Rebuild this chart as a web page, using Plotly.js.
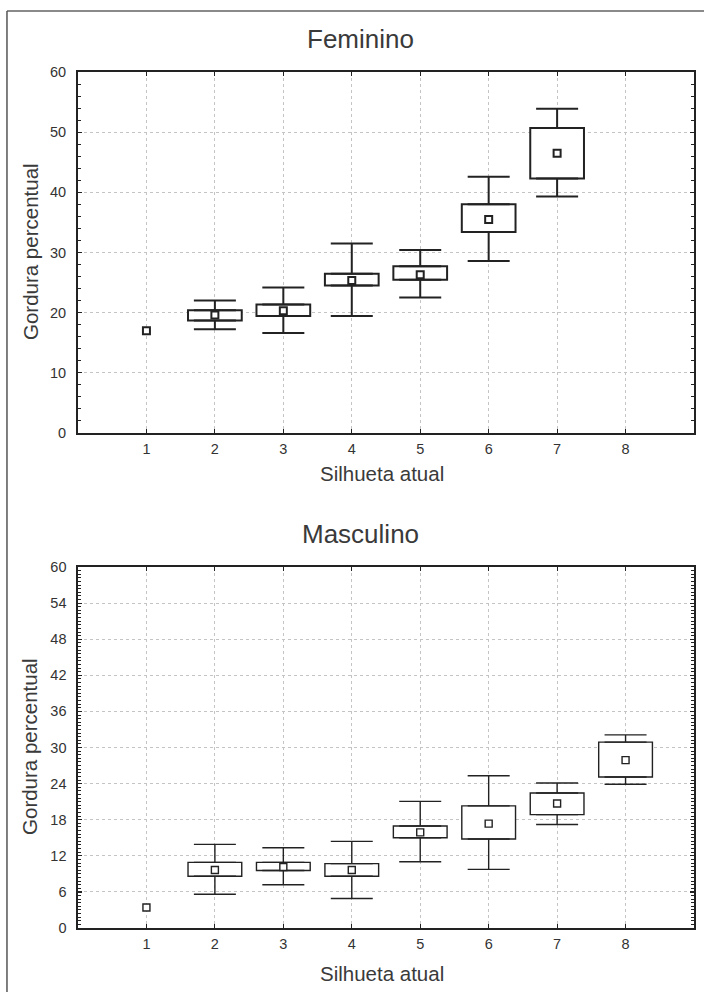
<!DOCTYPE html>
<html>
<head>
<meta charset="utf-8">
<script src="https://cdn.plot.ly/plotly-3.0.1.min.js"></script>
<style>html,body{margin:0;padding:0;background:#fff;}#chart{width:704px;height:992px;}</style>
</head>
<body>
<div id="chart"></div>
<script>
// ---- Data ----
var silhueta = [1, 2, 3, 4, 5, 6, 7, 8];
var xTickLabels = ["1", "2", "3", "4", "5", "6", "7", "8"];

// Feminino: mean, box (mean ± SE) and whiskers (mean ± SD)
var femMean      = [17.0, 19.6, 20.3, 25.35, 26.3, 35.5, 46.5, null];
var femBoxLow    = [null, 18.7, 19.45, 24.5, 25.45, 33.4, 42.3, null];
var femBoxHigh   = [null, 20.4, 21.35, 26.45, 27.7, 38.0, 50.7, null];
var femWhiskLow  = [null, 17.25, 16.6, 19.45, 22.5, 28.6, 39.3, null];
var femWhiskHigh = [null, 22.0, 24.2, 31.5, 30.4, 42.6, 53.9, null];

// Masculino
var mascMean      = [3.4, 9.65, 10.15, 9.65, 15.9, 17.35, 20.7, 27.9];
var mascBoxLow    = [null, 8.6, 9.55, 8.6, 15.0, 14.8, 18.85, 25.1];
var mascBoxHigh   = [null, 10.9, 10.9, 10.7, 16.95, 20.3, 22.45, 30.9];
var mascWhiskLow  = [null, 5.6, 7.2, 4.9, 11.0, 9.75, 17.2, 23.9];
var mascWhiskHigh = [null, 13.9, 13.35, 14.4, 21.05, 25.3, 24.1, 32.1];

var femTickVals = [0, 10, 20, 30, 40, 50, 60];
var mascTickVals = [0, 6, 12, 18, 24, 30, 36, 42, 48, 54, 60];

// ---- Helpers ----
function pick(arr, idx) { return idx.map(function (i) { return arr[i]; }); }
function validIdx(arr) { var r = []; arr.forEach(function (v, i) { if (v !== null) r.push(i); }); return r; }
function diff(a, b) { return a.map(function (v, i) { return v - b[i]; }); }
function zeros(a) { return a.map(function () { return 0; }); }

var INK = '#222';

function boxTraces(lo, hi, wlo, whi, xa, ya, lw) {
  var idx = validIdx(lo);
  var x = pick(silhueta, idx), l = pick(lo, idx), h = pick(hi, idx);
  var wl = pick(wlo, idx), wh = pick(whi, idx);
  var box = {
    type: 'bar', xaxis: xa, yaxis: ya,
    x: x, base: l, y: diff(h, l), width: 0.785,
    marker: {color: 'white', line: {color: INK, width: lw}},
    hoverinfo: 'skip', showlegend: false
  };
  var upper = {
    type: 'scatter', mode: 'markers', xaxis: xa, yaxis: ya,
    x: x, y: h, marker: {size: 1, opacity: 0},
    error_y: {type: 'data', symmetric: false, array: diff(wh, h), arrayminus: zeros(h),
              width: 21, thickness: lw, color: INK},
    hoverinfo: 'skip', showlegend: false
  };
  var lower = {
    type: 'scatter', mode: 'markers', xaxis: xa, yaxis: ya,
    x: x, y: l, marker: {size: 1, opacity: 0},
    error_y: {type: 'data', symmetric: false, array: zeros(l), arrayminus: diff(l, wl),
              width: 21, thickness: lw, color: INK},
    hoverinfo: 'skip', showlegend: false
  };
  return [box, upper, lower];
}
function meanTrace(m, xa, ya, lw, size) {
  var idx = validIdx(m);
  return {
    type: 'scatter', mode: 'markers', xaxis: xa, yaxis: ya,
    x: pick(silhueta, idx), y: pick(m, idx),
    marker: {symbol: 'square', size: size, color: 'white', line: {color: INK, width: lw}},
    hoverinfo: 'skip', showlegend: false
  };
}

var tickFont = {family: 'Liberation Sans Narrow, Liberation Sans, Arial, sans-serif', size: 14.5, color: '#333'};

function xAxis(anchor, lw) {
  return {
    anchor: anchor, domain: [0, 1], range: [0, 9],
    tickvals: silhueta, ticktext: xTickLabels,
    showgrid: true, gridcolor: '#c4c4c4', griddash: 'dot', gridwidth: 1,
    zeroline: false, showline: true, linecolor: INK, linewidth: lw, mirror: 'allticks',
    ticks: 'inside', ticklen: 4, tickcolor: INK, tickwidth: 1.2,
    tickfont: tickFont, ticklabelstandoff: 2, fixedrange: true
  };
}
function yAxis(anchor, domain, tv, minorStep, lw) {
  return {
    anchor: anchor, domain: domain, range: [0, 60],
    tickvals: tv, ticktext: tv.map(String),
    showgrid: true, gridcolor: '#c4c4c4', griddash: 'dot', gridwidth: 1,
    zeroline: false, showline: true, linecolor: INK, linewidth: lw, mirror: 'allticks',
    ticks: 'inside', ticklen: 4, tickcolor: INK, tickwidth: 1.2,
    minor: {dtick: minorStep, tick0: 0, ticks: 'inside', ticklen: 3, tickcolor: INK, tickwidth: 1, showgrid: false},
    tickfont: tickFont, ticklabelstandoff: 7, fixedrange: true
  };
}

var data = []
  .concat(boxTraces(femBoxLow, femBoxHigh, femWhiskLow, femWhiskHigh, 'x', 'y', 2))
  .concat([meanTrace(femMean, 'x', 'y', 2, 7)])
  .concat(boxTraces(mascBoxLow, mascBoxHigh, mascWhiskLow, mascWhiskHigh, 'x2', 'y2', 1.4))
  .concat([meanTrace(mascMean, 'x2', 'y2', 1.4, 7)]);

var titleFont = {family: 'Liberation Sans, Arial, sans-serif', size: 26, color: '#3a3a3a'};
var axTitleFont = {family: 'Liberation Sans, Arial, sans-serif', size: 20.5, color: '#3a3a3a'};

var layout = {
  width: 704, height: 992,
  margin: {l: 78, r: 10, t: 72, b: 64},
  paper_bgcolor: 'white', plot_bgcolor: 'white',
  showlegend: false, barmode: 'overlay',
  xaxis: xAxis('y', 2),
  yaxis: yAxis('x', [0.5783, 1], femTickVals, 2, 2),
  xaxis2: xAxis('y2', 1.6),
  yaxis2: yAxis('x2', [0, 0.4217], mascTickVals, 0.6, 1.6),
  shapes: [
    {type: 'line', xref: 'paper', yref: 'paper', x0: -0.1153, x1: 1.2, y0: 1.0713, y1: 1.0713, line: {color: '#8a8a8a', width: 2}},
    {type: 'line', xref: 'paper', yref: 'paper', x0: -0.1153, x1: -0.1153, y0: 1.0713, y1: -0.2, line: {color: '#555', width: 1.5}}
  ],
  annotations: [
    {text: 'Feminino', xref: 'paper', yref: 'paper', x: 0.4578, y: 1.0386, xanchor: 'center', yanchor: 'middle', showarrow: false, font: titleFont},
    {text: 'Masculino', xref: 'paper', yref: 'paper', x: 0.459, y: 0.4603, xanchor: 'center', yanchor: 'middle', showarrow: false, font: titleFont},
    {text: 'Silhueta atual', xref: 'paper', yref: 'paper', x: 0.4935, y: 0.5315, xanchor: 'center', yanchor: 'middle', showarrow: false, font: axTitleFont},
    {text: 'Silhueta atual', xref: 'paper', yref: 'paper', x: 0.4935, y: -0.0526, xanchor: 'center', yanchor: 'middle', showarrow: false, font: axTitleFont},
    {text: 'Gordura percentual', xref: 'paper', yref: 'paper', x: -0.0779, y: 0.7897, xanchor: 'center', yanchor: 'middle', textangle: -90, showarrow: false, font: axTitleFont},
    {text: 'Gordura percentual', xref: 'paper', yref: 'paper', x: -0.0779, y: 0.2115, xanchor: 'center', yanchor: 'middle', textangle: -90, showarrow: false, font: axTitleFont}
  ]
};

Plotly.newPlot('chart', data, layout, {displayModeBar: false, staticPlot: true});
</script>
</body>
</html>
